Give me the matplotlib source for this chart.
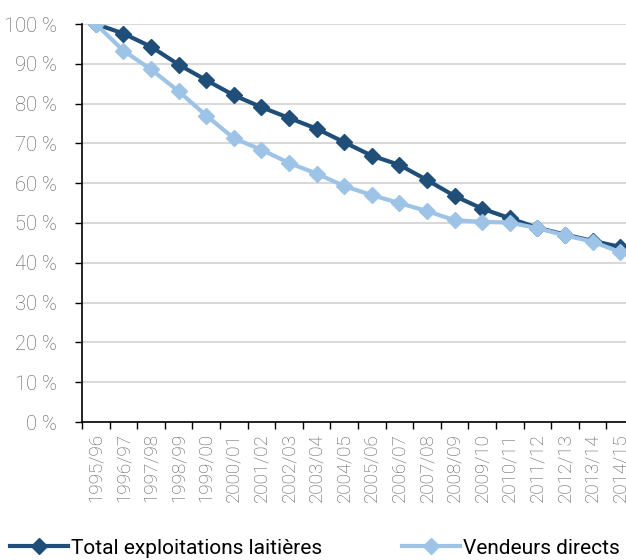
import matplotlib.pyplot as plt
import numpy as np

plt.rcParams["font.family"] = ["Roboto", "DejaVu Sans"]

saisons = ["1995/96", "1996/97", "1997/98", "1998/99", "1999/00", "2000/01",
           "2001/02", "2002/03", "2003/04", "2004/05", "2005/06", "2006/07",
           "2007/08", "2008/09", "2009/10", "2010/11", "2011/12", "2012/13",
           "2013/14", "2014/15"]
total = [100, 97.6, 94.3, 89.8, 85.9, 82.1, 79.1, 76.4, 73.7, 70.3,
         66.9, 64.6, 60.8, 56.8, 53.6, 51.2, 48.8, 47.1, 45.5, 44.0]
vendeurs = [100, 93.3, 88.6, 83.1, 77.0, 71.3, 68.4, 65.1, 62.4, 59.3,
            57.0, 55.0, 53.0, 50.7, 50.3, 50.1, 48.7, 46.9, 45.3, 42.7]

fig = plt.figure(figsize=(6.26, 5.6), dpi=100)
ax = fig.add_axes([82 / 626, 1 - 422 / 560, 552 / 626, 398 / 560])

x = np.arange(len(saisons))
ax.plot(x, total, color="#1f4e79", linewidth=3, marker="D", markersize=8,
        label="Total exploitations laitières", zorder=3)
ax.plot(x, vendeurs, color="#9dc3e6", linewidth=3, marker="D", markersize=8,
        label="Vendeurs directs", zorder=4)

ax.set_xlim(-0.5, len(saisons) - 0.5)
ax.set_ylim(0, 100)
ax.set_yticks(np.arange(0, 101, 10))
ax.set_yticklabels([f"{v} %" for v in range(0, 101, 10)])
ax.set_xticks(x)
ax.set_xticklabels(saisons, rotation=90)
ax.set_xticks(np.arange(-0.5, len(saisons), 1), minor=True)
ax.tick_params(axis="x", which="major", length=0, pad=8, labelsize=13.5,
               labelcolor="#595959")
ax.tick_params(axis="x", which="minor", length=5, width=1, direction="out")
ax.tick_params(axis="y", length=5, width=1, direction="out", pad=13,
               labelsize=14.5, labelcolor="#595959")
for lbl in ax.get_xticklabels() + ax.get_yticklabels():
    lbl.set_fontweight("light")

ax.grid(axis="y", color="#d9d9d9", linewidth=1.5)
ax.set_axisbelow(True)
ax.spines["top"].set_visible(False)
ax.spines["right"].set_visible(False)
ax.spines["left"].set_linewidth(1.2)
ax.spines["bottom"].set_linewidth(1.2)

fig.legend(loc="center left", bbox_to_anchor=(10 / 626, 12 / 560), ncol=2,
           frameon=False, fontsize=15, handlelength=2.8, handletextpad=0.15,
           columnspacing=3.8, borderpad=0, borderaxespad=0)

fig.savefig("out.png", dpi=100)
